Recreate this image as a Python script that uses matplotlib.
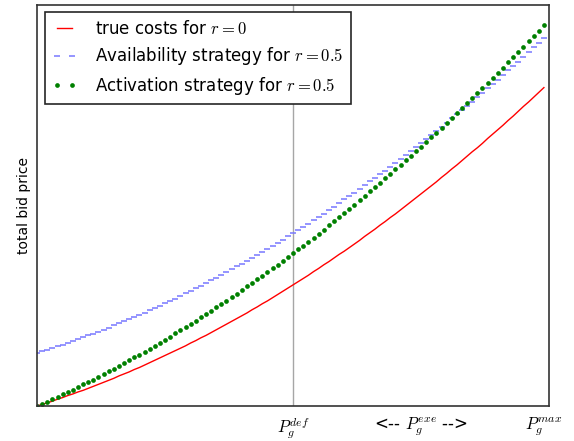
import matplotlib
matplotlib.use("Agg")
import matplotlib.pyplot as plt
import numpy as np

plt.rcParams['mathtext.fontset'] = 'cm'
plt.rcParams['font.family'] = 'DejaVu Sans'

# power steps 0..99 (P = 0 .. P_max)
steps = np.arange(100)

true_costs = [
    0.0, 0.4, 0.8, 1.2, 1.7, 2.1, 2.6, 3.0, 3.5, 3.9,
    4.4, 4.9, 5.4, 5.9, 6.4, 6.9, 7.5, 8.0, 8.5, 9.1,
    9.6, 10.2, 10.8, 11.4, 12.0, 12.6, 13.2, 13.8, 14.4, 15.0,
    15.7, 16.3, 17.0, 17.6, 18.3, 19.0, 19.7, 20.4, 21.1, 21.8,
    22.5, 23.2, 24.0, 24.7, 25.5, 26.2, 27.0, 27.8, 28.6, 29.4,
    30.2, 31.0, 31.8, 32.6, 33.5, 34.3, 35.2, 36.0, 36.9, 37.8,
    38.6, 39.5, 40.4, 41.3, 42.3, 43.2, 44.1, 45.1, 46.0, 47.0,
    47.9, 48.9, 49.9, 50.9, 51.9, 52.9, 53.9, 54.9, 55.9, 57.0,
    58.0, 59.1, 60.1, 61.2, 62.3, 63.4, 64.4, 65.5, 66.7, 67.8,
    68.9, 70.0, 71.2, 72.3, 73.5, 74.7, 75.8, 77.0, 78.2, 79.4,
]

availability = [
    13.2, 13.6, 14.0, 14.4, 14.9, 15.3, 15.7, 16.2, 16.6, 17.1,
    17.6, 18.0, 18.5, 19.0, 19.5, 20.1, 20.6, 21.1, 21.6, 22.2,
    22.7, 23.3, 23.9, 24.5, 25.0, 25.6, 26.2, 26.8, 27.5, 28.1,
    28.7, 29.4, 30.0, 30.7, 31.3, 32.0, 32.7, 33.4, 34.1, 34.8,
    35.5, 36.2, 36.9, 37.7, 38.4, 39.2, 39.9, 40.7, 41.5, 42.3,
    43.1, 43.9, 44.7, 45.5, 46.3, 47.2, 48.0, 48.9, 49.7, 50.6,
    51.5, 52.3, 53.2, 54.1, 55.0, 56.0, 56.9, 57.8, 58.7, 59.7,
    60.6, 61.6, 62.6, 63.5, 64.5, 65.5, 66.5, 67.5, 68.6, 69.6,
    70.6, 71.7, 72.7, 73.8, 74.8, 75.9, 77.0, 78.1, 79.2, 80.3,
    81.4, 82.5, 83.7, 84.8, 85.9, 87.1, 88.3, 89.4, 90.6, 91.8,
]

activation = [
    0.0, 0.6, 1.1, 1.7, 2.3, 2.9, 3.5, 4.1, 4.7, 5.4,
    6.0, 6.6, 7.3, 8.0, 8.6, 9.3, 10.0, 10.7, 11.4, 12.1,
    12.8, 13.5, 14.3, 15.0, 15.8, 16.5, 17.3, 18.1, 18.9, 19.6,
    20.4, 21.2, 22.1, 22.9, 23.7, 24.6, 25.4, 26.3, 27.1, 28.0,
    28.9, 29.8, 30.7, 31.6, 32.5, 33.4, 34.3, 35.2, 36.2, 37.1,
    38.1, 39.1, 40.0, 41.0, 42.0, 43.0, 44.0, 45.1, 46.1, 47.1,
    48.1, 49.2, 50.2, 51.3, 52.4, 53.5, 54.6, 55.6, 56.8, 57.9,
    59.0, 60.1, 61.3, 62.4, 63.6, 64.7, 65.9, 67.1, 68.2, 69.4,
    70.6, 71.9, 73.1, 74.3, 75.5, 76.8, 78.0, 79.3, 80.5, 81.8,
    83.1, 84.4, 85.7, 87.0, 88.3, 89.6, 91.0, 92.3, 93.6, 95.0,
]

tick_pos = [50, 75, 99]
tick_labels = [r'$P_g^{def}$', r'<-- $P_g^{exe}$ -->', r'$P_g^{max}$']

fig = plt.figure(figsize=(5.74, 4.41), dpi=100)
ax = fig.add_axes([0.0645, 0.0794, 0.892, 0.9093])

ax.plot(steps, true_costs, color='red', lw=1, label=r'true costs for $r=0$')
ax.plot(steps, availability, linestyle='none', marker='_', ms=5, mew=1.1,
        color='#7878ff', label=r'Availability strategy for $r=0.5$')
ax.plot(steps, activation, linestyle='none', marker='o', ms=3.4, mew=0,
        color='green', label=r'Activation strategy for $r=0.5$')
ax.axvline(50, color='0.65', lw=1, zorder=0)

ax.set_xlim(0, 100)
ax.set_ylim(0, 100)
ax.set_xticks(tick_pos)
ax.set_xticklabels(tick_labels, fontsize=12)
ax.set_yticks([])
ax.tick_params(axis='x', length=0, pad=7)
ax.set_ylabel('total bid price', fontsize=10, labelpad=4)
for s in ax.spines.values():
    s.set_color('0.2')
    s.set_linewidth(1.2)

leg = ax.legend(loc='upper left', fontsize=12, numpoints=2, fancybox=False,
                framealpha=1, borderpad=0.45, handlelength=1.5,
                handletextpad=1.1, labelspacing=0.45, borderaxespad=0.45)
leg.get_frame().set_edgecolor('0.15')
leg.get_frame().set_linewidth(1.2)

fig.savefig('out.png', dpi=100)
